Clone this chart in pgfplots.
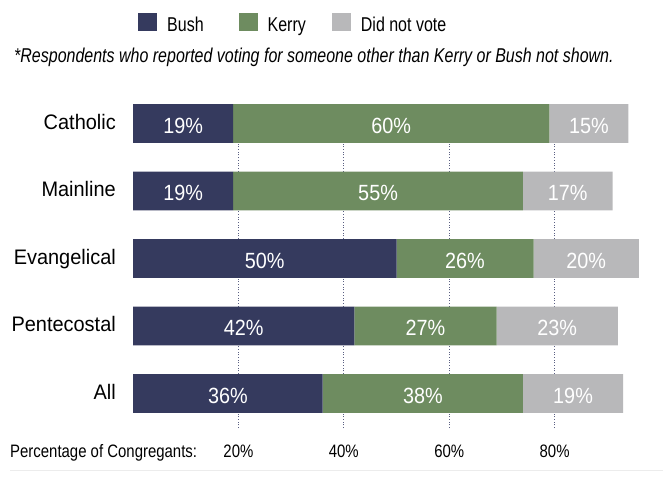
\documentclass[border=0pt]{standalone}
\usepackage{pgfplots}
\pgfplotsset{compat=1.18}
\usepackage{pgfplotstable}
\usepackage{fontspec}
\setmainfont{Liberation Sans}
\newfontfamily\fLeg{Liberation Sans}[FakeStretch=0.8]
\newfontfamily\fBar{Liberation Sans}[FakeStretch=0.9]
\newfontfamily\fCat{Liberation Sans}[FakeStretch=0.95]
\newfontfamily\fTick{Liberation Sans}[FakeStretch=0.83]
\definecolor{bushc}{RGB}{53,58,94}
\definecolor{kerryc}{RGB}{110,140,96}
\definecolor{nonec}{RGB}{184,184,186}
\definecolor{gridc}{RGB}{90,95,130}
\pgfplotsset{sq/.style={legend image code/.code={\fill[##1] (0pt,0pt) rectangle (19pt,18pt);}}}

\pgfplotstableread{
y bush kerry none
4 19 60 15
3 19 55 17
2 50 26 20
1 42 27 23
0 36 38 19
}\data

\begin{document}
\begin{tikzpicture}
\path[use as bounding box] (0pt,0pt) rectangle (663pt,480pt);
\draw[color={rgb,255:red,236;green,236;blue,236}, line width=1pt] (10pt,10pt) -- (663pt,10pt);
\node[anchor=base west, inner sep=0pt, font=\fontsize{20}{24}\fLeg\itshape] at (14pt,417pt) {*Respondents who reported voting for someone other than Kerry or Bush not shown.};
\node[anchor=base west, inner sep=0pt, font=\fontsize{18}{22}\fTick] at (10pt,23pt) {Percentage of Congregants:};
\begin{axis}[
  at={(133pt,52pt)}, anchor=south west, scale only axis,
  width=527pt, height=304.6pt,
  xmin=0, xmax=100, ymin=-0.511, ymax=4,
  xbar stacked, bar width=38.7pt, clip=false,
  axis line style={draw=none}, tick style={draw=none},
  xtick={20,40,60,80}, xticklabels={20\%,40\%,60\%,80\%},
  xticklabel style={anchor=base, inner sep=0pt, yshift=-29pt, font=\fontsize{18}{22}\fTick},
  ytick={0,1,2,3,4}, yticklabels={All,Pentecostal,Evangelical,Mainline,Catholic},
  yticklabel style={anchor=base east, inner sep=0pt, xshift=-17pt, yshift=-6pt, font=\fontsize{21}{25}\fCat},
  xmajorgrids, grid style={gridc, line width=0.9pt, dash pattern=on 0.9pt off 1.8pt},
  legend columns=3,
  legend style={draw=none, fill=none, inner sep=0pt, at={(0.0095,1.3624)}, anchor=north west,
    font=\fontsize{20}{24}\fLeg, nodes={inner sep=0pt, anchor=base west},
    /tikz/every odd column/.append style={column sep=10pt},
    /tikz/every even column/.append style={column sep=26pt}},
]
\addplot[fill=bushc, draw=none, sq] table[x=bush, y=y]{\data};
\addplot[fill=kerryc, draw=none, sq] table[x=kerry, y=y]{\data};
\addplot[fill=nonec, draw=none, sq] table[x=none, y=y]{\data};
\legend{Bush\hspace*{9pt}, Kerry, Did not vote}
\end{axis}
\begin{axis}[
  at={(133pt,52pt)}, anchor=south west, scale only axis,
  width=527pt, height=304.6pt,
  xmin=0, xmax=100, ymin=-0.511, ymax=4,
  hide axis, clip=false,
  nodes near coords={\pgfplotspointmeta\%}, point meta=explicit symbolic,
  nodes near coords style={anchor=base, yshift=-10pt, inner sep=0pt, text=white, font=\fontsize{22}{26}\fBar},
]
\addplot[draw=none] table[x expr=\thisrow{bush}/2, y=y, meta=bush]{\data};
\addplot[draw=none] table[x expr=\thisrow{bush}+\thisrow{kerry}/2, y=y, meta=kerry]{\data};
\addplot[draw=none] table[x expr=\thisrow{bush}+\thisrow{kerry}+\thisrow{none}/2, y=y, meta=none]{\data};
\end{axis}
\end{tikzpicture}
\end{document}
